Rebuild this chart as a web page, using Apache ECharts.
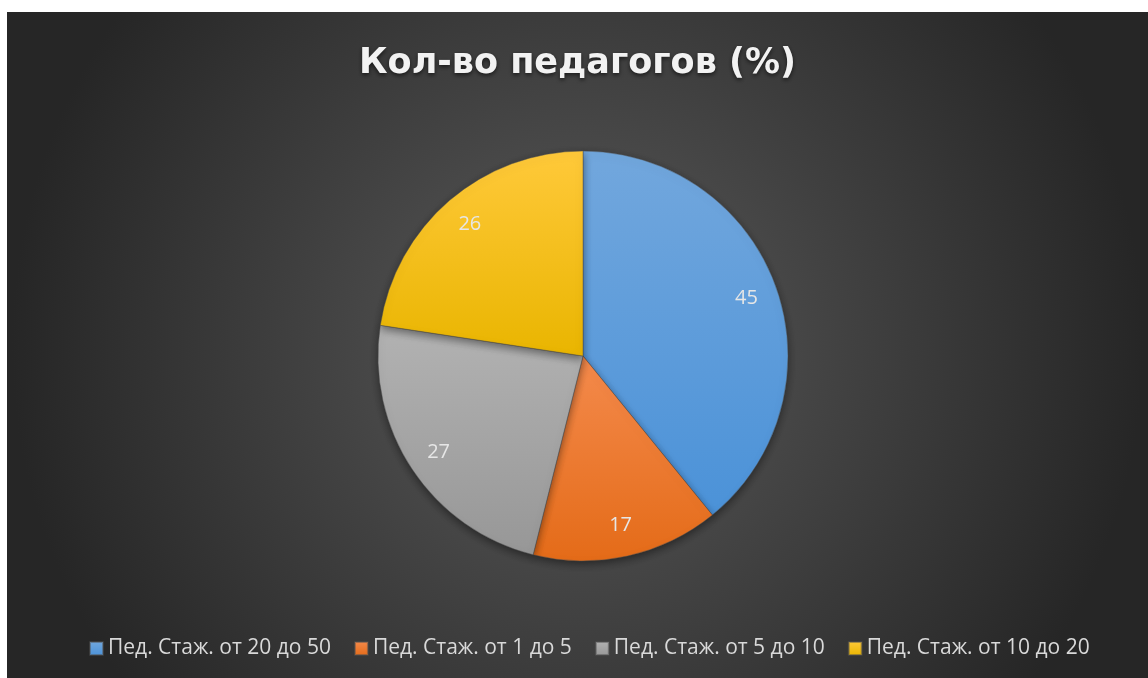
<!DOCTYPE html>
<html>
<head>
<meta charset="utf-8">
<script src="https://cdn.jsdelivr.net/npm/echarts@6/dist/echarts.min.js"></script>
<style>
  html, body { margin: 0; padding: 0; background: #fff; }
  #chart { position: absolute; left: 7px; top: 12px; width: 1141px; height: 666px; }
</style>
</head>
<body>
<div id="chart"></div>
<script>
  var categories = ['Пед. Стаж. от 20 до 50', 'Пед. Стаж. от 1 до 5', 'Пед. Стаж. от 5 до 10', 'Пед. Стаж. от 10 до 20'];
  var values = [45, 17, 27, 26];
  // top / bottom colour of each slice gradient
  var topColors = ['#72a7dd', '#f48a4c', '#b2b2b2', '#ffc93a'];
  var bottomColors = ['#4b92d8', '#e46b18', '#979797', '#e9b500'];

  function grad(i) {
    return new echarts.graphic.LinearGradient(0, 0, 0, 1, [
      { offset: 0, color: topColors[i] },
      { offset: 1, color: bottomColors[i] }
    ]);
  }

  var pieData = categories.map(function (name, i) {
    return { name: name, value: values[i], itemStyle: { color: grad(i) } };
  });
  // transparent ring only used to place the value labels near the rim
  var labelData = categories.map(function (name, i) {
    return { name: name, value: values[i] };
  });

  var chart = echarts.init(document.getElementById('chart'));
  chart.setOption({
    backgroundColor: new echarts.graphic.RadialGradient(0.5, 0.5, 0.85, [
      { offset: 0, color: '#5a5a5a' },
      { offset: 1, color: '#262626' }
    ]),
    title: {
      text: 'Кол-во педагогов (%)',
      left: 'center',
      top: 29,
      textStyle: {
        fontFamily: 'DejaVu Sans',
        fontWeight: 'bold',
        fontSize: 35,
        color: '#f2f2f2',
        textShadowColor: 'rgba(0,0,0,0.6)',
        textShadowBlur: 4,
        textShadowOffsetY: 2
      }
    },
    legend: {
      bottom: 14,
      left: 77,
      itemWidth: 13,
      itemHeight: 13,
      itemGap: 23,
      itemTextGap: 6,
      icon: 'rect',
      data: categories.map(function (name, i) {
        return { name: name, itemStyle: { color: grad(i) } };
      }),
      textStyle: { color: '#d9d9d9', fontSize: 21, fontFamily: 'Open Sans' }
    },
    series: [
      {
        type: 'pie',
        center: [576, 344],
        radius: [0, 205],
        startAngle: 90,
        clockwise: true,
        silent: true,
        label: { show: false },
        labelLine: { show: false },
        itemStyle: {
          borderColor: 'rgba(80,80,80,0.5)',
          borderWidth: 0.5,
          shadowColor: 'rgba(0,0,0,0.45)',
          shadowBlur: 8,
          shadowOffsetY: 3
        },
        data: pieData
      },
      {
        type: 'pie',
        center: [576, 344],
        radius: [136, 205],
        startAngle: 90,
        clockwise: true,
        silent: true,
        legendHoverLink: false,
        itemStyle: { color: 'rgba(0,0,0,0)' },
        label: {
          show: true,
          position: 'inside',
          color: '#e6e6e6',
          fontSize: 20,
          fontFamily: 'Open Sans',
          formatter: '{c}'
        },
        labelLine: { show: false },
        data: labelData
      }
    ]
  });
</script>
</body>
</html>
